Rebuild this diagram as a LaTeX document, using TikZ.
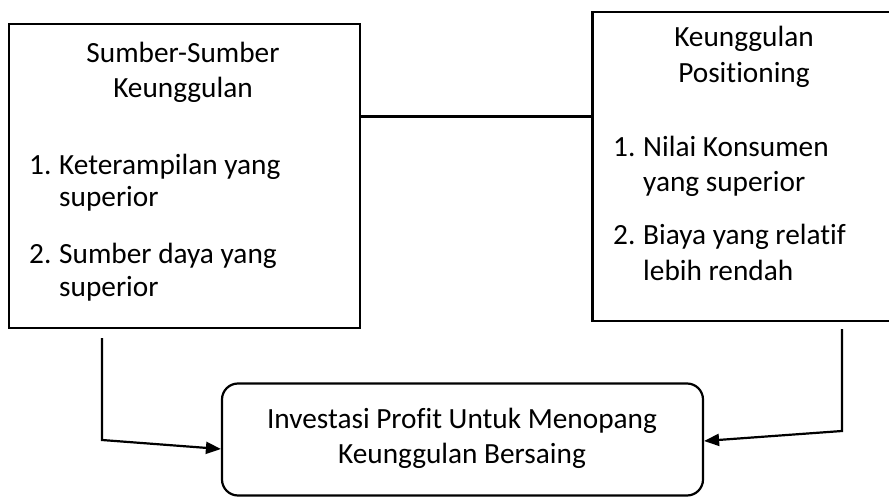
\documentclass[tikz,border=0pt]{standalone}
\usepackage{fontspec}
\setmainfont{Carlito}[Ligatures=NoCommon]
\usetikzlibrary{arrows.meta}
\begin{document}
\begin{tikzpicture}[x=1pt,y=-1pt,
  box/.style={draw=black,line width=2.2pt,inner sep=0pt},
  txt/.style={inner sep=0pt,font=\fontsize{29.3}{35}\selectfont},
  conn/.style={draw=black,line width=2.2pt},
  arr/.style={conn,-{Triangle[length=15pt,width=12pt]}}]
\clip (0,0) rectangle (889,497);
% boxes
\node[box,minimum width=351pt,minimum height=304pt] (left) at (184.5,176) {};
\node[box,minimum width=310pt,minimum height=309pt] (right) at (747.5,166.5) {};
\node[box,rounded corners=16pt,minimum width=481pt,minimum height=112pt] (bottom) at (462.5,439.5) {};
% left texts
\node[txt,anchor=base] (l1) at (183,63) {Sumber-Sumber};
\node[txt,anchor=base] (l2) at (183,98) {Keunggulan};
\node[txt,anchor=base west] (l3n) at (29,175) {1.};
\node[txt,anchor=base west] (l3) at (59,175) {Keterampilan yang};
\node[txt,anchor=base west] (l4) at (59,207) {superior};
\node[txt,anchor=base west] (l5n) at (29,263) {2.};
\node[txt,anchor=base west] (l5) at (59,263) {Sumber daya yang};
\node[txt,anchor=base west] (l6) at (59,296) {superior};
% right texts
\node[txt,anchor=base] (r1) at (744,47) {Keunggulan};
\node[txt,anchor=base] (r2) at (744,83) {Positioning};
\node[txt,anchor=base west] (r3n) at (613,157) {1.};
\node[txt,anchor=base west] (r3) at (643,157) {Nilai Konsumen};
\node[txt,anchor=base west] (r4) at (643,192) {yang superior};
\node[txt,anchor=base west] (r5n) at (613,245) {2.};
\node[txt,anchor=base west] (r5) at (643,245) {Biaya yang relatif};
\node[txt,anchor=base west] (r6) at (643,280) {lebih rendah};
% bottom texts
\node[txt,anchor=base] (b1) at (462,428) {Investasi Profit Untuk Menopang};
\node[txt,anchor=base] (b2) at (462,463) {Keunggulan Bersaing};
% connectors
\coordinate (la) at (102,338);
\coordinate (lb) at (102,440);
\coordinate (ra) at (842,329);
\coordinate (rb) at (842,431);
\draw[conn] (left.east |- 0,116.5) -- (right.west |- 0,116.5);
\draw[arr] (la) -- (lb) -- (bottom.west |- 0,449);
\draw[arr] (ra) -- (rb) -- (bottom.east |- 0,441);
\end{tikzpicture}
\end{document}
